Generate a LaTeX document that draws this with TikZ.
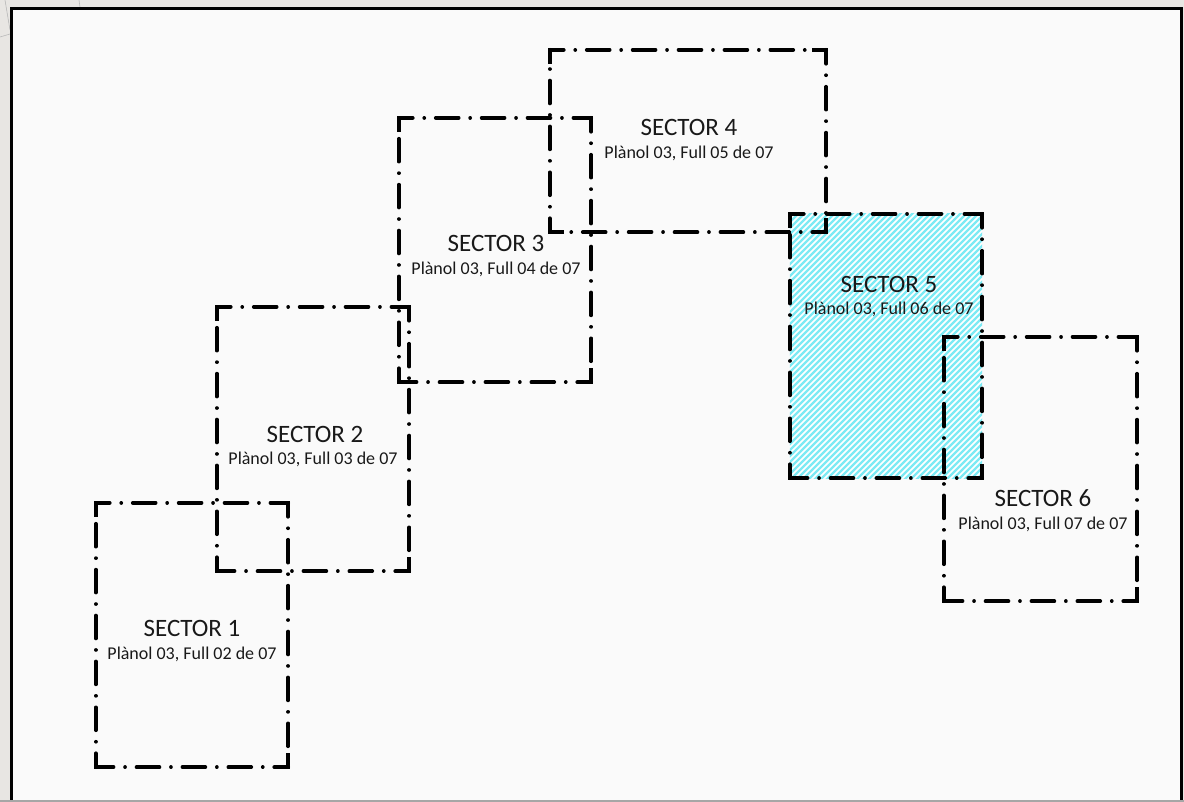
\documentclass[tikz,border=0pt]{standalone}
\usepackage{fontspec}
\setmainfont{Carlito}
\usetikzlibrary{calc}
\definecolor{outbg}{RGB}{232,230,227}
\definecolor{inbg}{RGB}{250,250,250}
\definecolor{hatchc}{RGB}{125,234,244}
\begin{document}
\begin{tikzpicture}[x=1pt,y=-1pt,
  secbox/.style={rectangle,draw=none,inner sep=0pt},
  ddline/.style={line width=3.6pt,line cap=round,dash pattern=on 23pt off 11.4pt on 0.1pt off 11.4pt,dash phase=9pt},
  cornerl/.style={line width=3.6pt,line cap=butt,line join=miter},
  ttl/.style={anchor=base,inner sep=0pt,font=\fontsize{25}{29}\selectfont,text=black!90},
  sbt/.style={anchor=base,inner sep=0pt,font=\fontsize{18}{21}\selectfont,text=black!90}]
\useasboundingbox (0,0) rectangle (1184,802);
\fill[outbg] (0,0) rectangle (1184,802);
\draw[gray!55,line width=0.6pt] (5,0) -- (10,30);
\draw[gray!55,line width=0.6pt] (0,37) -- (10,34);
\draw[gray!55,line width=0.6pt] (79,0) -- (80,7);
\fill[inbg] (11,8.5) rectangle (1181,801);
\draw[line width=3pt] (11,803) -- (11,8.5) -- (1181,8.5) -- (1181,803);
\draw[gray!70,line width=1.5pt] (0,801.2) -- (1184,801.2);

% sector boxes
\node[secbox,minimum width=192pt,minimum height=264pt] (s1) at (192,635) {};
\node[secbox,minimum width=192pt,minimum height=264pt] (s2) at (313,439) {};
\node[secbox,minimum width=192pt,minimum height=264pt] (s3) at (495,250) {};
\node[secbox,minimum width=276pt,minimum height=182pt] (s4) at (688,141) {};
\node[secbox,minimum width=192pt,minimum height=264pt] (s5) at (886,346) {};
\node[secbox,minimum width=193pt,minimum height=264pt] (s6) at (1040.5,469) {};

% hatch of sector 5
\fill[white] (s5.north west) rectangle (s5.south east);
\begin{scope}
\clip (s5.north west) rectangle (s5.south east);
\foreach \i in {0,6,...,462}{
  \draw[hatchc,line width=2.2pt] (526+\i,480) -- ++(268,-268);
}
\end{scope}

\foreach \s in {s1,s2,s3,s4,s5,s6}{
  \draw[ddline] (\s.north west) -- (\s.north east);
  \draw[ddline] (\s.north east) -- (\s.south east);
  \draw[ddline] (\s.south east) -- (\s.south west);
  \draw[ddline] (\s.south west) -- (\s.north west);
  \draw[cornerl] ($(\s.north west)+(0,14)$) -- (\s.north west) -- ($(\s.north west)+(14,0)$);
  \draw[cornerl] ($(\s.north east)+(-14,0)$) -- (\s.north east) -- ($(\s.north east)+(0,14)$);
  \draw[cornerl] ($(\s.south east)+(0,-14)$) -- (\s.south east) -- ($(\s.south east)+(-14,0)$);
  \draw[cornerl] ($(\s.south west)+(14,0)$) -- (\s.south west) -- ($(\s.south west)+(0,-14)$);
}

\node[ttl] (t1) at (192,636) {SECTOR 1};
\node[sbt] (u1) at (192,659) {Plànol 03, Full 02 de 07};
\node[ttl] (t2) at (315,442) {SECTOR 2};
\node[sbt] (u2) at (313,464) {Plànol 03, Full 03 de 07};
\node[ttl] (t3) at (496,252) {SECTOR 3};
\node[sbt] (u3) at (496,275) {Plànol 03, Full 04 de 07};
\node[ttl] (t4) at (689,136) {SECTOR 4};
\node[sbt] (u4) at (689,159) {Plànol 03, Full 05 de 07};
\node[ttl] (t5) at (889,293) {SECTOR 5};
\node[sbt] (u5) at (889,315) {Plànol 03, Full 06 de 07};
\node[ttl] (t6) at (1043,506) {SECTOR 6};
\node[sbt] (u6) at (1043,529) {Plànol 03, Full 07 de 07};
\end{tikzpicture}
\end{document}
